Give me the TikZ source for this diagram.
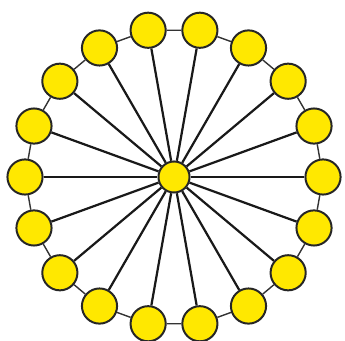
\documentclass[tikz,border=0pt]{standalone}

\definecolor{wheelyellow}{RGB}{255,232,0}

\tikzset{
  vert/.style={circle, draw=black!85, line width=1.7pt, fill=wheelyellow,
    minimum size=30pt, inner sep=0pt},
  hub/.style={vert, minimum size=26.5pt},
  spoke/.style={line width=1.9pt, black!90},
  rim/.style={line width=1.2pt, black!80}
}

\begin{document}
\begin{tikzpicture}[x=0.03cm, y=0.03cm]

  \useasboundingbox (0,0) rectangle (345,340);

  \begin{scope}[shift={(174,163)}]
  \node[hub] (c) at (0,0) {};

  \node[vert] (v0)  at (0:149)   {};
  \node[vert] (v1)  at (20:149)  {};
  \node[vert] (v2)  at (40:149)  {};
  \node[vert] (v3)  at (60:149)  {};
  \node[vert] (v4)  at (80:149)  {};
  \node[vert] (v5)  at (100:149) {};
  \node[vert] (v6)  at (120:149) {};
  \node[vert] (v7)  at (140:149) {};
  \node[vert] (v8)  at (160:149) {};
  \node[vert] (v9)  at (180:149) {};
  \node[vert] (v10) at (200:149) {};
  \node[vert] (v11) at (220:149) {};
  \node[vert] (v12) at (240:149) {};
  \node[vert] (v13) at (260:149) {};
  \node[vert] (v14) at (280:149) {};
  \node[vert] (v15) at (300:149) {};
  \node[vert] (v16) at (320:149) {};
  \node[vert] (v17) at (340:149) {};
  \end{scope}

  % Rim
  \draw[rim] (v0) -- (v1) -- (v2) -- (v3) -- (v4) -- (v5) -- (v6) -- (v7)
    -- (v8) -- (v9) -- (v10) -- (v11) -- (v12) -- (v13) -- (v14) -- (v15)
    -- (v16) -- (v17) -- (v0);

  % Spokes
  \draw[spoke] (c) -- (v0);  \draw[spoke] (c) -- (v1);
  \draw[spoke] (c) -- (v2);  \draw[spoke] (c) -- (v3);
  \draw[spoke] (c) -- (v4);  \draw[spoke] (c) -- (v5);
  \draw[spoke] (c) -- (v6);  \draw[spoke] (c) -- (v7);
  \draw[spoke] (c) -- (v8);  \draw[spoke] (c) -- (v9);
  \draw[spoke] (c) -- (v10); \draw[spoke] (c) -- (v11);
  \draw[spoke] (c) -- (v12); \draw[spoke] (c) -- (v13);
  \draw[spoke] (c) -- (v14); \draw[spoke] (c) -- (v15);
  \draw[spoke] (c) -- (v16); \draw[spoke] (c) -- (v17);

\end{tikzpicture}
\end{document}
